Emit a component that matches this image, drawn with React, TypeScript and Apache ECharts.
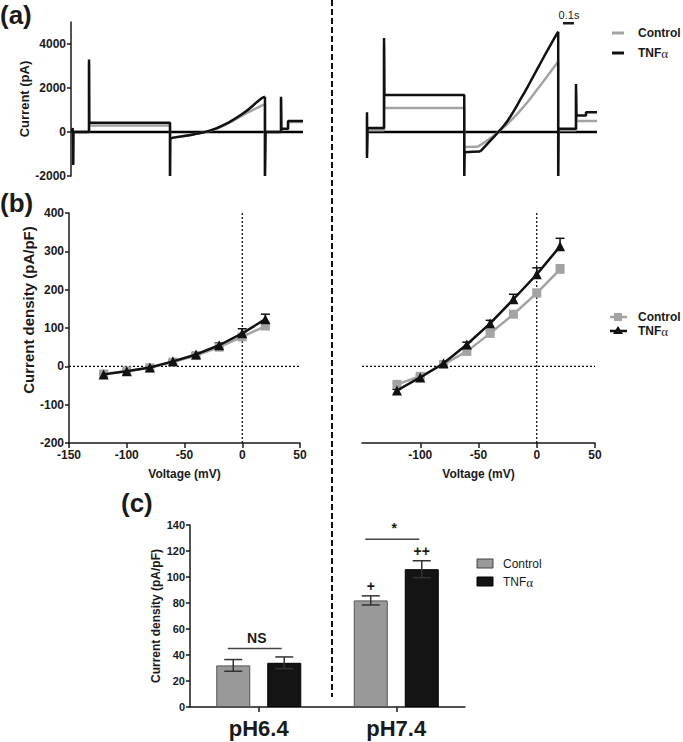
import React, { useEffect, useRef } from 'react';
import * as echarts from 'echarts';

const FONT = '"Liberation Sans", Arial, Helvetica, sans-serif';
const SERIF = '"Liberation Serif", "DejaVu Serif", serif';
const INK = '#1a1a1a';
const GRAY = '#a3a3a3';

// ---------- (a) current traces: [time (ms), current (pA)]; '-' breaks where the ramp is drawn separately ----------
const aLeftControl: any[] = [
  [5, 0], [15, 150], [20, 150], [20, -1450], [22, 0], [164, 0], [164, 3100], [166, 300], [901, 300],
  [901, -2000], [903, -280], [1300, '-'], [1765, 1260], [1765, -2000], [1770, 0],
  [1911, 0], [1911, 1500], [1914, 130], [1975, 130], [1975, 450], [2111, 450],
];
const aLeftControlRamp: number[][] = [
  [903, -280], [992, -200], [1113, -105], [1265, 55], [1417, 360], [1568, 780], [1735, 1200], [1765, 1260],
];
const aLeftTnf: any[] = [
  [5, 0], [15, 180], [20, 180], [20, -1500], [22, 0], [164, 0], [164, 3300], [166, 420], [901, 420],
  [901, -2000], [903, -290], [1300, '-'], [1765, 1600], [1765, -2000], [1770, 0],
  [1911, 0], [1911, 1600], [1914, 150], [1975, 150], [1975, 500], [2111, 500],
];
const aLeftTnfRamp: number[][] = [
  [903, -290], [992, -210], [1113, -110], [1265, 60], [1417, 390], [1568, 850], [1735, 1530], [1765, 1600],
];
const aRightControl: any[] = [
  [0, 700], [0, -1000], [5, 80], [155, 80], [155, 4000], [158, 1090], [885, 1090], [885, -2000],
  [888, -680], [1010, -667], [1300, '-'], [1740, 3200], [1740, -2000], [1743, 80], [1902, 80],
  [1902, 1800], [1906, 500], [2093, 500],
];
const aRightControlRamp: number[][] = [
  [1010, -667], [1101, -364], [1195, 0], [1301, 480], [1408, 1050], [1483, 1500], [1559, 2000],
  [1650, 2600], [1740, 3200],
];
const aRightTnf: any[] = [
  [0, 900], [0, -1180], [5, 180], [155, 180], [155, 4270], [158, 1680], [885, 1680], [885, -2000],
  [888, -920], [960, -900], [1030, -890], [1300, '-'], [1740, 4560], [1740, -2000], [1743, 150], [1902, 150],
  [1902, 2180], [1906, 750], [1993, 750], [1993, 900], [2093, 900],
];
const aRightTnfRamp: number[][] = [
  [1030, -890], [1110, -460], [1195, 0], [1286, 560], [1408, 1580], [1483, 2250], [1559, 2950],
  [1650, 3780], [1740, 4560],
];
const aLeftBaseline: number[][] = [[0, 0], [2111, 0]];
const aRightBaseline: number[][] = [[0, 0], [2093, 0]];
const aTicks = [-2000, 0, 2000, 4000];

// ---------- (b) I-V curves ----------
const voltages = [-120, -100, -80, -60, -40, -20, 0, 20];
const bLeftControl = [-20, -12, -4, 11, 28, 50, 77, 105];
const bLeftControlErr = [2, 2, 2, 2, 3, 4, 5, 6];
const bLeftTnf = [-21, -13, -3, 13, 31, 55, 86, 123];
const bLeftTnfErr = [2, 2, 2, 3, 4, 6, 12, 13];
const bRightControl = [-47, -26, 5, 39, 86, 136, 191, 253];
const bRightControlErr = [3, 3, 4, 5, 6, 8, 10, 12];
const bRightTnf = [-63, -29, 8, 57, 112, 175, 240, 313];
const bRightTnfErr = [3, 4, 4, 6, 8, 13, 17, 21];
const bRightXTicks = [-100, -50, 0, 50];
const bZeroH: number[][] = [[-150, 0], [50, 0]];
const bZeroV: number[][] = [[0, -200], [0, 400]];

// ---------- (c) bar chart ----------
const cCategories = ['pH6.4', 'pH7.4'];
const cControl = [32, 82];
const cControlErr = [4.5, 3.5];
const cTnf = [34, 106];
const cTnfErr = [4.5, 6.5];
const cControlMarks = ['', '+'];
const cTnfMarks = ['', '++'];
const cSigHeights = [45, 129];
const cSigLabels = ['NS', '*'];

const boldText = (size: number) => ({ fontFamily: FONT, fontWeight: 'bold' as const, fontSize: size, color: INK });

function ivErr(idx: number, vals: number[], errs: number[], color: string) {
  return {
    type: 'custom', xAxisIndex: idx, yAxisIndex: idx, z: 3, silent: true,
    data: voltages.map((v, i) => [v, vals[i], errs[i]]),
    renderItem: (_p: any, api: any) => {
      const p0 = api.coord([api.value(0), api.value(1)]);
      const p1 = api.coord([api.value(0), api.value(1) + api.value(2)]);
      return {
        type: 'group', children: [
          { type: 'line', shape: { x1: p0[0], y1: p0[1], x2: p1[0], y2: p1[1] }, style: { stroke: color, lineWidth: 1.5 } },
          { type: 'line', shape: { x1: p1[0] - 4.5, y1: p1[1], x2: p1[0] + 4.5, y2: p1[1] }, style: { stroke: color, lineWidth: 1.5 } },
        ],
      };
    },
  };
}

function barErr(means: number[], errs: number[], marks: string[], offset: number) {
  return {
    type: 'custom', xAxisIndex: 4, yAxisIndex: 4, z: 5, silent: true,
    data: means.map((m, i) => [i, m, errs[i]]),
    renderItem: (params: any, api: any) => {
      const i = api.value(0), m = api.value(1), e = api.value(2);
      const top = api.coord([i, m + e]);
      const bot = api.coord([i, m - e]);
      const x = top[0] + offset;
      const st = { stroke: '#333', lineWidth: 1.5 };
      const children: any[] = [
        { type: 'line', shape: { x1: x, y1: bot[1], x2: x, y2: top[1] }, style: st },
        { type: 'line', shape: { x1: x - 9, y1: top[1], x2: x + 9, y2: top[1] }, style: st },
        { type: 'line', shape: { x1: x - 9, y1: bot[1], x2: x + 9, y2: bot[1] }, style: st },
      ];
      const mk = marks[params.dataIndex];
      if (mk) children.push({ type: 'text', style: { text: mk, x, y: top[1] - 3, align: 'center', verticalAlign: 'bottom', font: `bold 14px ${FONT}`, fill: INK } });
      return { type: 'group', children };
    },
  };
}

const tnfLabel = (x: number, y: number, bold: boolean) => ({
  type: 'text', x, y,
  style: {
    text: '{a|TNF}{b|α}', verticalAlign: 'middle',
    rich: {
      a: { fontFamily: FONT, fontWeight: bold ? 'bold' : 'normal', fontSize: 12, fill: INK },
      b: { fontFamily: SERIF, fontSize: 13, fill: INK },
    },
  },
});

export default function App() {
  const ref = useRef<HTMLDivElement>(null);
  useEffect(() => {
    if (!ref.current) return;
    const chart = echarts.init(ref.current, null, { renderer: 'svg' });
    const axisLine = { show: true, onZero: false, lineStyle: { color: INK, width: 1.5 } };
    const axisTick = { show: true, length: 4, lineStyle: { color: INK, width: 1.5 } };
    const hiddenX = (grid: number, max: number) => ({ type: 'value', gridIndex: grid, min: 0, max, show: false });
    const traceLine = (ax: number, data: any[], color: string, z: number, smooth = false) => ({
      type: 'line', xAxisIndex: ax, yAxisIndex: ax, data, symbol: 'none', silent: true, z, smooth,
      connectNulls: false, lineStyle: { color, width: 2.5 },
    });
    const plain = (v: number) => String(v);
    const option: any = {
      animation: false,
      backgroundColor: '#fff',
      grid: [
        { left: 71, top: 22, width: 232, height: 154 },
        { left: 367, top: 22, width: 230, height: 154 },
        { left: 69, top: 213, width: 231, height: 230 },
        { left: 362, top: 213, width: 233, height: 230 },
        { left: 190, top: 525, width: 275, height: 182 },
      ],
      xAxis: [
        hiddenX(0, 2111),
        hiddenX(1, 2093),
        {
          type: 'value', gridIndex: 2, min: -150, max: 50, interval: 50, axisLine, axisTick: { ...axisTick, length: 5 },
          splitLine: { show: false }, axisLabel: { ...boldText(12), margin: 6, formatter: plain },
          name: 'Voltage (mV)', nameLocation: 'middle', nameGap: 25, nameTextStyle: boldText(12),
        },
        {
          type: 'value', gridIndex: 3, min: -150, max: 50, interval: 50, axisLine,
          axisTick: { ...axisTick, length: 5, customValues: bRightXTicks },
          splitLine: { show: false }, axisLabel: { ...boldText(12), margin: 6, customValues: bRightXTicks, formatter: plain },
          name: 'Voltage (mV)', nameLocation: 'middle', nameGap: 25, nameTextStyle: boldText(12),
        },
        {
          type: 'category', gridIndex: 4, data: cCategories, axisLine,
          axisTick: { show: true, alignWithLabel: true, length: 5, lineStyle: { color: INK, width: 1.5 } },
          axisLabel: { ...boldText(22), margin: 10 },
        },
      ],
      yAxis: [
        {
          type: 'value', gridIndex: 0, min: -2000, max: 5000, axisLine,
          axisTick: { ...axisTick, customValues: aTicks }, splitLine: { show: false },
          axisLabel: { ...boldText(12), margin: 5, customValues: aTicks, formatter: plain },
          name: 'Current (pA)', nameLocation: 'middle', nameRotate: 90, nameGap: 40, nameTextStyle: boldText(13),
        },
        { type: 'value', gridIndex: 1, min: -2000, max: 5000, show: false },
        {
          type: 'value', gridIndex: 2, min: -200, max: 400, interval: 100, axisLine, axisTick,
          splitLine: { show: false }, axisLabel: { ...boldText(12), margin: 5, formatter: plain },
          name: 'Current density (pA/pF)', nameLocation: 'middle', nameRotate: 90, nameGap: 33,
          nameTextStyle: { ...boldText(15), padding: [0, 0, 0, 36] },
        },
        { type: 'value', gridIndex: 3, min: -200, max: 400, show: false },
        {
          type: 'value', gridIndex: 4, min: 0, max: 140, interval: 20, axisLine, axisTick,
          splitLine: { show: false }, axisLabel: { ...boldText(11), margin: 5, formatter: plain },
          name: 'Current density (pA/pF)', nameLocation: 'middle', nameRotate: 90, nameGap: 28, nameTextStyle: boldText(12),
        },
      ],
      series: [
        // (a)
        traceLine(0, aLeftBaseline, '#000', 2),
        traceLine(0, aLeftControl, GRAY, 3),
        traceLine(0, aLeftControlRamp, GRAY, 3, true),
        traceLine(0, aLeftTnf, '#111', 4),
        traceLine(0, aLeftTnfRamp, '#111', 4, true),
        traceLine(1, aRightBaseline, '#000', 2),
        traceLine(1, aRightControl, GRAY, 3),
        traceLine(1, aRightControlRamp, GRAY, 3, true),
        traceLine(1, aRightTnf, '#111', 4),
        traceLine(1, aRightTnfRamp, '#111', 4, true),
        // (b) reference lines
        ...[2, 3].flatMap((ax) => [bZeroH, bZeroV].map((d) => ({
          type: 'line', xAxisIndex: ax, yAxisIndex: ax, data: d, symbol: 'none', silent: true, z: 1,
          lineStyle: { color: '#000', width: 1.2, type: [2, 2] },
        }))),
        // (b) error bars
        ivErr(2, bLeftControl, bLeftControlErr, GRAY),
        ivErr(2, bLeftTnf, bLeftTnfErr, '#111'),
        ivErr(3, bRightControl, bRightControlErr, GRAY),
        ivErr(3, bRightTnf, bRightTnfErr, '#111'),
        // (b) curves
        ...[
          [2, bLeftControl, bLeftTnf],
          [3, bRightControl, bRightTnf],
        ].flatMap(([ax, ctl, tnf]: any) => [
          {
            type: 'line', xAxisIndex: ax, yAxisIndex: ax, data: voltages.map((v, i) => [v, ctl[i]]), silent: true, z: 4,
            symbol: 'rect', symbolSize: 9, lineStyle: { color: GRAY, width: 2.5 }, itemStyle: { color: GRAY },
          },
          {
            type: 'line', xAxisIndex: ax, yAxisIndex: ax, data: voltages.map((v, i) => [v, tnf[i]]), silent: true, z: 5,
            symbol: 'triangle', symbolSize: 10, lineStyle: { color: '#111', width: 2.5 }, itemStyle: { color: '#111' },
          },
        ]),
        // (c) bars
        {
          type: 'bar', name: 'Control', xAxisIndex: 4, yAxisIndex: 4, data: cControl, barWidth: 34, barGap: '50%', silent: true,
          itemStyle: { color: '#999999', borderColor: '#555', borderWidth: 1 },
        },
        {
          type: 'bar', name: 'TNFα', xAxisIndex: 4, yAxisIndex: 4, data: cTnf, barWidth: 34, barGap: '50%', silent: true,
          itemStyle: { color: '#141414', borderColor: '#000', borderWidth: 1 },
        },
        barErr(cControl, cControlErr, cControlMarks, -25.5),
        barErr(cTnf, cTnfErr, cTnfMarks, 25.5),
        {
          type: 'custom', xAxisIndex: 4, yAxisIndex: 4, z: 6, silent: true,
          data: cSigHeights.map((h, i) => [i, h]),
          renderItem: (params: any, api: any) => {
            const p = api.coord([api.value(0), api.value(1)]);
            return {
              type: 'group', children: [
                { type: 'line', shape: { x1: p[0] - 31, y1: p[1], x2: p[0] + 23, y2: p[1] }, style: { stroke: '#444', lineWidth: 1.5 } },
                { type: 'text', style: { text: cSigLabels[params.dataIndex], x: p[0] - 2, y: p[1] - 4, align: 'center', verticalAlign: 'bottom', font: `bold 14px ${FONT}`, fill: INK } },
              ],
            };
          },
        },
      ],
      graphic: [
        { type: 'line', shape: { x1: 332, y1: 0, x2: 332, y2: 697 }, style: { stroke: '#111', lineWidth: 2, lineDash: [6, 3] } },
        { type: 'text', x: 0, y: 2, style: { text: '(a)', font: `bold 26px ${FONT}`, fill: INK } },
        { type: 'text', x: 0, y: 190, style: { text: '(b)', font: `bold 26px ${FONT}`, fill: INK } },
        { type: 'text', x: 121, y: 490, style: { text: '(c)', font: `bold 26px ${FONT}`, fill: INK } },
        // scale bar
        { type: 'text', x: 569, y: 15, style: { text: '0.1s', font: `11px ${FONT}`, fill: INK, align: 'center', verticalAlign: 'middle' } },
        { type: 'rect', shape: { x: 563, y: 22, width: 11, height: 2.5 }, style: { fill: INK } },
        // legend (a)
        { type: 'line', shape: { x1: 612, y1: 33, x2: 624, y2: 33 }, style: { stroke: GRAY, lineWidth: 3 } },
        { type: 'text', x: 638, y: 33, style: { text: 'Control', font: `bold 12px ${FONT}`, fill: INK, verticalAlign: 'middle' } },
        { type: 'line', shape: { x1: 612, y1: 53, x2: 624, y2: 53 }, style: { stroke: '#111', lineWidth: 3 } },
        tnfLabel(638, 53, true),
        // legend (b)
        { type: 'line', shape: { x1: 610, y1: 317, x2: 627, y2: 317 }, style: { stroke: GRAY, lineWidth: 2.5 } },
        { type: 'rect', shape: { x: 614, y: 313, width: 8, height: 8 }, style: { fill: GRAY } },
        { type: 'text', x: 638, y: 317, style: { text: 'Control', font: `bold 12px ${FONT}`, fill: INK, verticalAlign: 'middle' } },
        { type: 'line', shape: { x1: 610, y1: 331, x2: 627, y2: 331 }, style: { stroke: '#111', lineWidth: 2.5 } },
        { type: 'polygon', shape: { points: [[618, 326], [623, 334], [613, 334]] }, style: { fill: '#111' } },
        tnfLabel(638, 331, true),
        // legend (c)
        { type: 'rect', shape: { x: 477, y: 559, width: 16, height: 9 }, style: { fill: '#999999', stroke: '#444', lineWidth: 1 } },
        { type: 'text', x: 503, y: 564, style: { text: 'Control', font: `12px ${FONT}`, fill: INK, verticalAlign: 'middle' } },
        { type: 'rect', shape: { x: 477, y: 577, width: 16, height: 9 }, style: { fill: '#141414', stroke: '#000', lineWidth: 1 } },
        tnfLabel(503, 582, false),
      ],
    };
    chart.setOption(option);
    return () => chart.dispose();
  }, []);
  return <div ref={ref} style={{ position: 'fixed', left: 0, top: 0, width: 683, height: 742, background: '#fff' }} />;
}
